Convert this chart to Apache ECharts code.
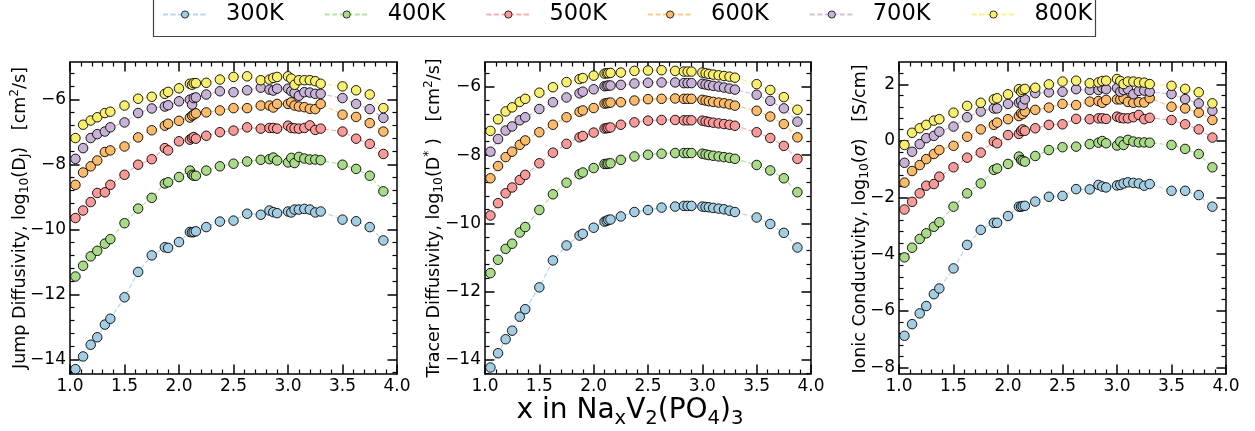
<!DOCTYPE html>
<html>
<head>
<meta charset="utf-8">
<script src="https://cdn.jsdelivr.net/npm/echarts@6/dist/echarts.min.js"></script>
<style>
  html, body { margin: 0; padding: 0; background: #ffffff; }
  #chart { width: 1255px; height: 431px; }
</style>
</head>
<body>
<div id="chart"></div>
<script>
// Sodium content x in NaxV2(PO4)3 (shared by every curve)
const naContent = [1.05, 1.12, 1.19, 1.25, 1.32, 1.37, 1.5, 1.625, 1.75, 1.87, 1.9, 2.0,
  2.1, 2.12, 2.135, 2.155, 2.25, 2.375, 2.5, 2.625, 2.75, 2.83, 2.865, 2.9,
  3.0, 3.03, 3.06, 3.1, 3.15, 3.2, 3.25, 3.3, 3.5, 3.625, 3.75, 3.875];

const temperatures = ['300K', '400K', '500K', '600K', '700K', '800K'];

// log10 of the jump diffusivity, cm^2/s
const jump300 = [-14.29, -13.90, -13.54, -13.31, -12.92, -12.74, -12.08, -11.30, -10.79, -10.54, -10.56, -10.38, -10.07, -10.08, -10.07, -10.05, -9.92, -9.75, -9.72, -9.51, -9.54, -9.41, -9.46, -9.49, -9.44, -9.47, -9.38, -9.38, -9.36, -9.38, -9.47, -9.44, -9.69, -9.74, -9.92, -10.33];
const jump400 = [-11.44, -11.11, -10.82, -10.65, -10.43, -10.29, -9.80, -9.35, -9.02, -8.58, -8.54, -8.38, -8.18, -8.31, -8.34, -8.34, -8.18, -8.05, -7.97, -7.90, -7.85, -7.83, -7.78, -7.87, -7.93, -7.79, -7.95, -7.76, -7.81, -7.84, -7.84, -7.86, -8.00, -8.13, -8.34, -8.82];
const jump500 = [-9.64, -9.41, -9.15, -8.87, -8.85, -8.62, -8.31, -8.00, -7.83, -7.49, -7.56, -7.28, -7.23, -7.18, -7.15, -7.20, -7.11, -7.00, -6.95, -6.85, -6.89, -6.87, -6.87, -6.89, -6.80, -6.87, -6.88, -6.89, -6.87, -6.79, -6.93, -6.89, -6.98, -7.20, -7.36, -7.67];
const jump600 = [-8.62, -8.24, -8.05, -7.87, -7.61, -7.56, -7.44, -7.16, -6.94, -6.80, -6.74, -6.65, -6.55, -6.49, -6.46, -6.42, -6.39, -6.33, -6.26, -6.26, -6.18, -6.18, -6.24, -6.13, -6.13, -6.08, -6.18, -6.21, -6.23, -6.28, -6.29, -6.13, -6.46, -6.53, -6.72, -6.98];
const jump700 = [-7.82, -7.49, -7.18, -7.06, -6.98, -6.85, -6.70, -6.41, -6.27, -6.21, -6.17, -6.05, -6.00, -6.15, -5.95, -5.93, -5.84, -5.74, -5.77, -5.71, -5.63, -5.69, -5.72, -5.66, -5.66, -5.74, -5.79, -5.88, -5.77, -5.78, -5.82, -5.82, -5.95, -6.13, -6.29, -6.56];
const jump800 = [-7.18, -6.77, -6.64, -6.54, -6.41, -6.37, -6.18, -5.97, -5.91, -5.82, -5.76, -5.65, -5.51, -5.54, -5.49, -5.49, -5.48, -5.38, -5.30, -5.28, -5.40, -5.38, -5.33, -5.30, -5.28, -5.35, -5.54, -5.40, -5.40, -5.40, -5.43, -5.51, -5.59, -5.71, -5.84, -6.26];

// log10 of the tracer diffusivity, cm^2/s
const tracer300 = [-14.23, -13.81, -13.40, -13.15, -12.74, -12.52, -11.88, -11.09, -10.65, -10.36, -10.31, -10.13, -9.95, -9.93, -9.90, -9.89, -9.80, -9.67, -9.61, -9.54, -9.51, -9.49, -9.49, -9.49, -9.51, -9.52, -9.53, -9.55, -9.57, -9.59, -9.63, -9.67, -9.83, -10.02, -10.28, -10.71];
const tracer400 = [-11.46, -11.07, -10.75, -10.60, -10.27, -10.11, -9.61, -9.15, -8.81, -8.56, -8.51, -8.38, -8.26, -8.26, -8.25, -8.24, -8.14, -8.04, -7.99, -7.96, -7.94, -7.94, -7.94, -7.94, -7.96, -7.98, -8.00, -8.02, -8.04, -8.06, -8.08, -8.11, -8.29, -8.45, -8.68, -9.09];
const tracer500 = [-9.77, -9.41, -9.12, -8.95, -8.73, -8.58, -8.24, -7.93, -7.67, -7.48, -7.44, -7.34, -7.22, -7.21, -7.20, -7.19, -7.11, -7.04, -6.99, -6.97, -6.97, -6.98, -6.98, -6.98, -6.99, -7.01, -7.03, -7.05, -7.07, -7.09, -7.11, -7.14, -7.33, -7.50, -7.73, -8.11];
const tracer600 = [-8.68, -8.32, -8.06, -7.90, -7.70, -7.57, -7.33, -7.11, -6.89, -6.73, -6.69, -6.62, -6.49, -6.48, -6.47, -6.46, -6.45, -6.40, -6.36, -6.35, -6.34, -6.35, -6.35, -6.35, -6.38, -6.40, -6.42, -6.44, -6.46, -6.48, -6.51, -6.55, -6.70, -6.87, -7.09, -7.48];
const tracer700 = [-7.90, -7.53, -7.28, -7.16, -6.98, -6.89, -6.65, -6.45, -6.31, -6.19, -6.14, -6.07, -5.98, -5.97, -5.96, -5.96, -5.94, -5.90, -5.88, -5.87, -5.87, -5.89, -5.89, -5.89, -5.91, -5.93, -5.95, -5.97, -5.99, -6.02, -6.05, -6.08, -6.23, -6.41, -6.63, -7.02];
const tracer800 = [-7.29, -6.95, -6.72, -6.60, -6.44, -6.35, -6.17, -6.01, -5.86, -5.77, -5.74, -5.67, -5.61, -5.60, -5.60, -5.59, -5.58, -5.53, -5.52, -5.51, -5.53, -5.55, -5.55, -5.55, -5.58, -5.60, -5.62, -5.64, -5.66, -5.68, -5.70, -5.73, -5.92, -6.09, -6.30, -6.67];

// log10 of the ionic conductivity, S/cm
const sigma300 = [-6.88, -6.47, -6.09, -5.83, -5.41, -5.21, -4.50, -3.67, -3.14, -2.89, -2.89, -2.65, -2.32, -2.32, -2.30, -2.29, -2.14, -1.97, -1.94, -1.70, -1.71, -1.55, -1.61, -1.64, -1.57, -1.55, -1.50, -1.46, -1.48, -1.50, -1.58, -1.52, -1.76, -1.76, -1.91, -2.32];
const sigma400 = [-4.11, -3.77, -3.46, -3.26, -3.03, -2.87, -2.32, -1.85, -1.50, -1.02, -0.97, -0.81, -0.55, -0.67, -0.70, -0.73, -0.53, -0.32, -0.22, -0.20, -0.11, -0.06, 0.00, -0.08, -0.16, -0.02, -0.14, 0.04, -0.02, -0.05, -0.05, -0.06, -0.14, -0.28, -0.46, -0.93];
const sigma500 = [-2.42, -2.15, -1.85, -1.58, -1.52, -1.26, -0.93, -0.59, -0.41, -0.02, -0.08, 0.21, 0.25, 0.36, 0.41, 0.36, 0.45, 0.57, 0.59, 0.78, 0.77, 0.80, 0.80, 0.78, 0.86, 0.82, 0.80, 0.80, 0.84, 0.92, 0.77, 0.82, 0.74, 0.59, 0.41, 0.12];
const sigma600 = [-1.47, -1.06, -0.85, -0.64, -0.46, -0.32, -0.17, 0.15, 0.41, 0.57, 0.65, 0.77, 0.88, 0.98, 0.95, 1.04, 1.10, 1.18, 1.31, 1.27, 1.39, 1.41, 1.35, 1.45, 1.47, 1.47, 1.51, 1.38, 1.35, 1.37, 1.36, 1.51, 1.21, 1.15, 1.00, 0.74];
const sigma700 = [-0.77, -0.38, -0.11, 0.10, 0.18, 0.33, 0.51, 0.84, 1.04, 1.15, 1.15, 1.31, 1.35, 1.41, 1.27, 1.47, 1.69, 1.72, 1.74, 1.83, 1.80, 1.80, 1.88, 1.83, 1.87, 1.74, 1.80, 1.83, 1.65, 1.77, 1.78, 1.74, 1.66, 1.48, 1.33, 1.07];
const sigma800 = [-0.14, 0.29, 0.45, 0.57, 0.72, 0.77, 1.00, 1.24, 1.35, 1.47, 1.51, 1.65, 1.83, 1.74, 1.80, 1.84, 1.88, 2.00, 2.10, 2.13, 2.04, 2.07, 2.12, 2.13, 2.19, 2.12, 2.01, 2.10, 2.10, 2.07, 2.06, 2.01, 1.95, 1.84, 1.72, 1.33];

// Tick values
const xMajorTicks = [1.0, 1.5, 2.0, 2.5, 3.0, 3.5, 4.0];
const yMajorTicksDiff = [-14, -12, -10, -8, -6];
const yMajorTicksSigma = [-8, -6, -4, -2, 0, 2];

const colors = ['#a3cde3', '#a9da88', '#f99a98', '#fdbb6a', '#c8b3d7', '#f9ef6c'];
const FONT = 'DejaVu Sans';

const panels = [
  { grid: { left: 70, top: 62, width: 327, height: 312 }, yMin: -14.44, yMax: -4.84, yTicks: yMajorTicksDiff,
    series: [jump300, jump400, jump500, jump600, jump700, jump800] },
  { grid: { left: 485, top: 62, width: 326, height: 312 }, yMin: -14.42, yMax: -5.27, yTicks: yMajorTicksDiff,
    series: [tracer300, tracer400, tracer500, tracer600, tracer700, tracer800] },
  { grid: { left: 899, top: 62, width: 327, height: 312 }, yMin: -8.23, yMax: 2.79, yTicks: yMajorTicksSigma,
    series: [sigma300, sigma400, sigma500, sigma600, sigma700, sigma800] }
];

function stepValues(min, max, step, skip) {
  const out = [];
  const start = Math.ceil(min / step - 1e-9);
  const end = Math.floor(max / step + 1e-9);
  for (let k = start; k <= end; k++) {
    const v = +(k * step).toFixed(6);
    if (!skip(v)) out.push(v);
  }
  return out;
}
const isMultiple = (v, m) => Math.abs(v / m - Math.round(v / m)) < 1e-6;

const fmtX = v => v.toFixed(1);
const fmtY = v => (v < 0 ? '\u2212' : '') + Math.abs(v);

const xAxes = [], yAxes = [], series = [];
const tickLine = w => ({ color: '#000', width: w });

panels.forEach((p, gi) => {
  const xMinor = stepValues(1, 4, 0.1, v => isMultiple(v, 0.5));
  const yMinor = stepValues(p.yMin, p.yMax, 0.4, v => isMultiple(v, 2));
  const baseX = { type: 'value', gridIndex: gi, min: 1, max: 4, splitLine: { show: false } };
  const baseY = { type: 'value', gridIndex: gi, min: p.yMin, max: p.yMax, splitLine: { show: false } };
  const line = show => ({ show, onZero: false, lineStyle: { color: '#000', width: 1.5 } });
  const major = vals => ({ show: true, inside: true, length: 9.5, customValues: vals, lineStyle: tickLine(1.5) });
  const minor = vals => ({ show: true, inside: true, length: 4.5, customValues: vals, lineStyle: tickLine(1.2) });
  const noLabel = { show: false };

  const xMain = xAxes.length;
  xAxes.push(Object.assign({}, baseX, { position: 'bottom', axisLine: line(true), axisTick: major(xMajorTicks),
    axisLabel: { show: true, customValues: xMajorTicks, formatter: fmtX, margin: 4, color: '#000',
      fontSize: 17, fontFamily: FONT, showMinLabel: true, showMaxLabel: true } }));
  xAxes.push(Object.assign({}, baseX, { position: 'bottom', axisLine: line(false), axisTick: minor(xMinor), axisLabel: noLabel }));
  xAxes.push(Object.assign({}, baseX, { position: 'top', axisLine: line(true), axisTick: major(xMajorTicks), axisLabel: noLabel }));
  xAxes.push(Object.assign({}, baseX, { position: 'top', axisLine: line(false), axisTick: minor(xMinor), axisLabel: noLabel }));

  const yMain = yAxes.length;
  yAxes.push(Object.assign({}, baseY, { position: 'left', axisLine: line(true), axisTick: major(p.yTicks),
    axisLabel: { show: true, customValues: p.yTicks, formatter: fmtY, margin: 4, color: '#000',
      fontSize: 17, fontFamily: FONT, showMinLabel: true, showMaxLabel: true } }));
  yAxes.push(Object.assign({}, baseY, { position: 'left', axisLine: line(false), axisTick: minor(yMinor), axisLabel: noLabel }));
  yAxes.push(Object.assign({}, baseY, { position: 'right', axisLine: line(true), axisTick: major(p.yTicks), axisLabel: noLabel }));
  yAxes.push(Object.assign({}, baseY, { position: 'right', axisLine: line(false), axisTick: minor(yMinor), axisLabel: noLabel }));

  p.series.forEach((vals, si) => {
    series.push({
      type: 'line', name: temperatures[si], xAxisIndex: xMain, yAxisIndex: yMain,
      data: naContent.map((x, i) => [x, vals[i]]),
      symbol: 'circle', symbolSize: 9.5, showSymbol: true, showAllSymbol: true,
      itemStyle: { color: colors[si], borderColor: '#000', borderWidth: 0.9 },
      lineStyle: { color: colors[si], width: 1.2, type: [5, 2.5], opacity: 0.8 },
      emphasis: { disabled: true }, animation: false, z: 2 + si
    });
  });
});

// One legend entry per temperature, spaced evenly across the frame
const legends = temperatures.map((t, i) => ({
  data: [t], left: 162 + i * 161.7, top: 3, padding: 0, selectedMode: false,
  itemWidth: 44, itemHeight: 9,
  itemStyle: { borderColor: '#000', borderWidth: 0.8 },
  formatter: '{t|{name}}',
  textStyle: { color: '#000', rich: { t: { fontSize: 22.5, fontFamily: FONT, color: '#000', padding: [0, 0, 0, 14] } } }
}));

// Rich text pieces for titles
const yRich = {
  m: { fontSize: 17.5, fontFamily: FONT, color: '#000', lineHeight: 22 },
  i: { fontSize: 17.5, fontFamily: FONT, fontStyle: 'italic', color: '#000', lineHeight: 22 },
  s: { fontSize: 12.3, fontFamily: FONT, color: '#000', lineHeight: 13.4, verticalAlign: 'bottom' },
  p: { fontSize: 12.3, fontFamily: FONT, color: '#000', lineHeight: 13.6, verticalAlign: 'top' }
};
const xRich = {
  m: { fontSize: 28, fontFamily: FONT, color: '#000', lineHeight: 35 },
  s: { fontSize: 19.6, fontFamily: FONT, color: '#000', lineHeight: 23, verticalAlign: 'bottom' }
};

function vTitle(x, y, text) {
  return { type: 'text', x, y, rotation: Math.PI / 2, z: 10,
    style: { legacy: false, text, rich: yRich, align: 'center', verticalAlign: 'middle' } };
}

const option = {
  backgroundColor: '#ffffff',
  animation: false,
  grid: panels.map(p => Object.assign({ containLabel: false }, p.grid)),
  xAxis: xAxes,
  yAxis: yAxes,
  legend: legends,
  series,
  graphic: [
    { type: 'rect', z: 10, shape: { x: 153.5, y: -5, width: 942, height: 41.5 },
      style: { fill: 'none', stroke: '#444', lineWidth: 1.2 } },
    vTitle(20, 218, '{m|Jump Diffusivity, log}{s|10}{m|(D}{s|J}{m|)   [cm}{p|2}{m|/s]}'),
    vTitle(434, 218, '{m|Tracer Diffusivity, log}{s|10}{m|(D}{p|*}{m| )   [cm}{p|2}{m|/s]}'),
    vTitle(860, 219, '{m|Ionic Conductivity, log}{s|10}{m|(}{i|\u03c3}{m|)   [S/cm]}'),
    { type: 'text', x: 630, y: 411, z: 10,
      style: { legacy: false, text: '{m|x in Na}{s|x}{m|V}{s|2}{m|(PO}{s|4}{m|)}{s|3}', rich: xRich,
        align: 'center', verticalAlign: 'middle' } }
  ]
};

const chart = echarts.init(document.getElementById('chart'), null, { renderer: 'canvas' });
chart.setOption(option);
</script>
</body>
</html>
